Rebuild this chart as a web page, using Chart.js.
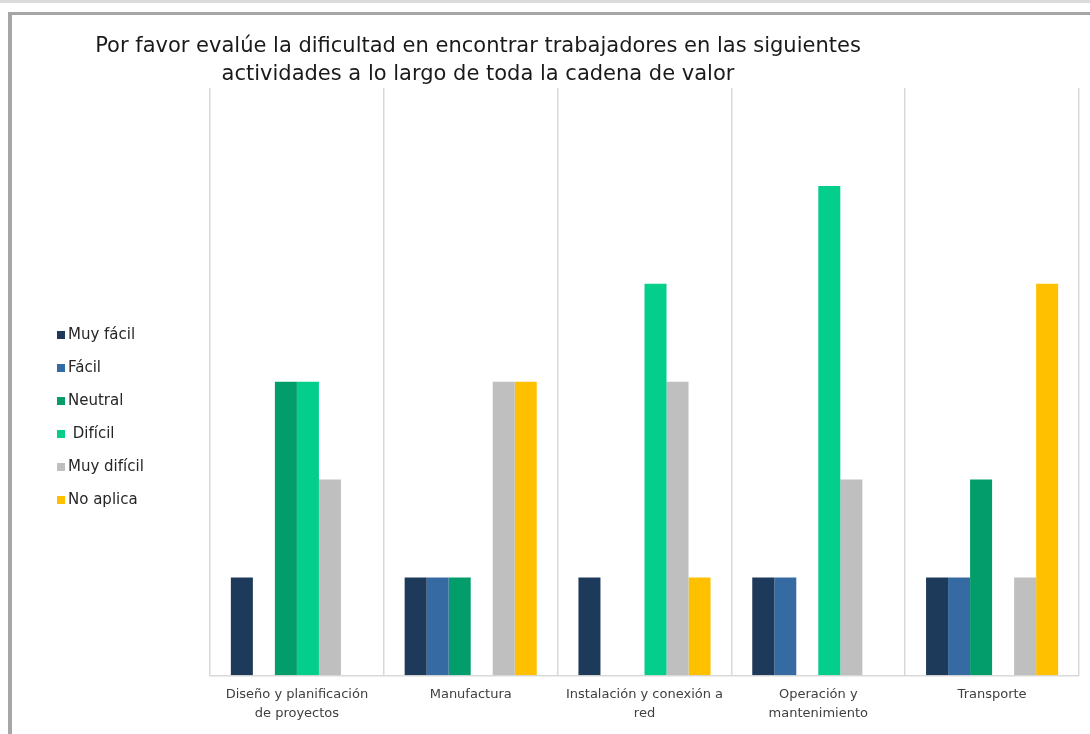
<!DOCTYPE html>
<html>
<head>
<meta charset="utf-8">
<script src="https://cdn.jsdelivr.net/npm/chart.js@4"></script>
<style>
  html, body { margin: 0; padding: 0; background: #ffffff; }
  body { width: 1090px; height: 734px; position: relative; overflow: hidden; font-family: "DejaVu Sans", sans-serif; }
  .topstrip { position: absolute; left: 0; top: 0; width: 1090px; height: 3px; background: #dcdcdc; }
  .frame { position: absolute; left: 8px; top: 12px; width: 1100px; height: 740px; border-left: 4px solid #a6a6a6; border-top: 3px solid #a6a6a6; }
  .title { position: absolute; left: 0; width: 956px; top: 31px; text-align: center; font-size: 21px; line-height: 28px; color: #1a1a1a; }
  .wrap { position: absolute; left: 12px; top: 15px; width: 1078px; height: 719px; }
</style>
</head>
<body>
<div class="topstrip"></div>
<div class="frame"></div>
<div class="wrap"><canvas id="chart"></canvas></div>
<div class="title">Por favor evalúe la dificultad en encontrar trabajadores en las siguientes<br>actividades a lo largo de toda la cadena de valor</div>
<script>
// categories (wrapped as in the original)
const categories = [
    ['Diseño y planificación', 'de proyectos'],
    ['Manufactura'],
    ['Instalación y conexión a', 'red'],
    ['Operación y', 'mantenimiento'],
    ['Transporte']
];

const seriesNames = ['Muy fácil', 'Fácil', 'Neutral', ' Difícil', 'Muy difícil', 'No aplica'];
const seriesColors = ['#1e3a5a', '#366aa2', '#039d6c', '#03ce8b', '#bfbfbf', '#ffc000'];

const muyFacil   = [1, 1, 1, 1, 1];
const facil      = [0, 1, 0, 1, 1];
const neutral    = [3, 1, 0, 0, 2];
const dificil    = [3, 0, 4, 5, 0];
const muyDificil = [2, 3, 3, 2, 1];
const noAplica   = [0, 3, 1, 0, 4];

const seriesValues = [muyFacil, facil, neutral, dificil, muyDificil, noAplica];

// legend drawn at the left side, like the original
const sideLegend = {
    id: 'sideLegend',
    afterDraw(chart) {
        const ctx = chart.ctx;
        ctx.save();
        ctx.font = '15px "DejaVu Sans", sans-serif';
        ctx.textBaseline = 'middle';
        chart.data.datasets.forEach((ds, i) => {
            const y = 320 + i * 33;
            ctx.fillStyle = ds.backgroundColor;
            ctx.fillRect(45, y - 4, 8, 8);
            ctx.fillStyle = '#262626';
            ctx.fillText(ds.label, 56, y);
        });
        ctx.restore();
    }
};

new Chart(document.getElementById('chart'), {
    type: 'bar',
    data: {
        labels: categories,
        datasets: seriesNames.map((name, i) => ({
            label: name,
            data: seriesValues[i],
            backgroundColor: seriesColors[i],
            borderWidth: 0,
            barPercentage: 1,
            categoryPercentage: 0.76
        }))
    },
    options: {
        responsive: true,
        maintainAspectRatio: false,
        animation: false,
        layout: { padding: { left: 198, right: 11, top: 73, bottom: 1 } },
        plugins: {
            legend: { display: false },
            title: { display: false },
            tooltip: { enabled: false }
        },
        scales: {
            x: {
                grid: { display: true, offset: true, color: '#d9d9d9', lineWidth: 1.5, drawTicks: false },
                border: { color: '#d9d9d9', width: 1.5 },
                ticks: {
                    color: '#404040',
                    padding: 10,
                    maxRotation: 0,
                    autoSkip: false,
                    font: { family: '"DejaVu Sans", sans-serif', size: 13, lineHeight: 1.45 }
                }
            },
            y: {
                display: false,
                min: 0,
                max: 6
            }
        }
    },
    plugins: [sideLegend]
});
</script>
</body>
</html>
